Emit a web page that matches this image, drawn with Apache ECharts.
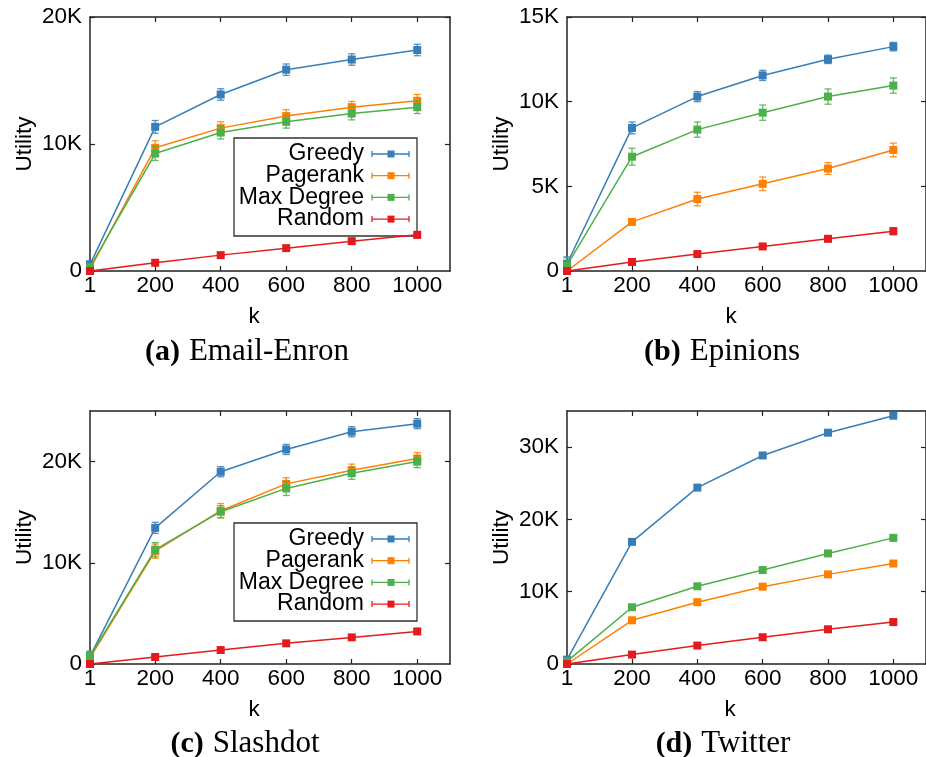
<!DOCTYPE html>
<html>
<head>
<meta charset="utf-8">
<title>Utility vs k</title>
<script src="https://cdn.jsdelivr.net/npm/echarts@6/dist/echarts.min.js"></script>
<style>
  html, body { margin: 0; padding: 0; background: #fff; }
  #chart { width: 926px; height: 757px; }
</style>
</head>
<body>
<div id="chart"></div>
<script>
// Seed-set size k
const K = [1, 200, 400, 600, 800, 1000];
const X_TICKS = [1, 200, 400, 600, 800, 1000];
const METHODS = ['Greedy', 'Pagerank', 'Max Degree', 'Random'];
const COLORS = ['#377eb8', '#ff7f00', '#4daf4a', '#e41a1c'];

// (a) Email-Enron
const enronGreedy    = [500, 11350, 13900, 15850, 16650, 17400];
const enronPagerank  = [150, 9700, 11250, 12200, 12900, 13400];
const enronMaxDegree = [300, 9250, 10900, 11750, 12400, 12900];
const enronRandom    = [0, 650, 1250, 1800, 2350, 2850];
const enronGreedyErr    = [300, 500, 450, 450, 450, 450];
const enronPagerankErr  = [200, 550, 500, 500, 450, 500];
const enronMaxDegreeErr = [300, 550, 500, 500, 500, 500];
const enronRandomErr    = [50, 150, 150, 150, 200, 250];

// (b) Epinions
const epinionsGreedy    = [430, 8450, 10300, 11550, 12500, 13250];
const epinionsPagerank  = [0, 2900, 4250, 5150, 6050, 7150];
const epinionsMaxDegree = [330, 6750, 8350, 9350, 10300, 10950];
const epinionsRandom    = [0, 530, 1000, 1450, 1900, 2350];
const epinionsGreedyErr    = [400, 350, 300, 300, 250, 250];
const epinionsPagerankErr  = [100, 150, 400, 400, 350, 400];
const epinionsMaxDegreeErr = [450, 500, 450, 450, 450, 450];
const epinionsRandomErr    = [50, 100, 100, 100, 150, 200];

// (c) Slashdot
const slashdotGreedy    = [760, 13450, 19000, 21200, 22950, 23750];
const slashdotPagerank  = [600, 11150, 15150, 17800, 19150, 20300];
const slashdotMaxDegree = [760, 11300, 15050, 17350, 18850, 20000];
const slashdotRandom    = [0, 690, 1380, 2040, 2630, 3220];
const slashdotGreedyErr    = [500, 550, 500, 500, 500, 500];
const slashdotPagerankErr  = [300, 700, 700, 600, 600, 600];
const slashdotMaxDegreeErr = [500, 700, 600, 700, 600, 600];
const slashdotRandomErr    = [50, 100, 100, 100, 150, 200];

// (d) Twitter
const twitterGreedy    = [600, 16900, 24400, 28850, 32000, 34350];
const twitterPagerank  = [0, 6050, 8550, 10700, 12400, 13900];
const twitterMaxDegree = [370, 7850, 10750, 13000, 15300, 17450];
const twitterRandom    = [0, 1300, 2550, 3700, 4800, 5800];
const twitterGreedyErr    = [100, 300, 300, 300, 300, 300];
const twitterPagerankErr  = [50, 200, 200, 200, 200, 200];
const twitterMaxDegreeErr = [100, 200, 200, 200, 200, 200];
const twitterRandomErr    = [50, 150, 150, 150, 150, 150];

// y-axis ranges and labelled ticks per panel
const Y_MAX   = [20000, 15000, 25000, 35000];
const Y_TICKS = [[0, 10000, 20000], [0, 5000, 10000, 15000], [0, 10000, 20000], [0, 10000, 20000, 30000]];
const CAPTIONS = [['(a)', 'Email-Enron'], ['(b)', 'Epinions'], ['(c)', 'Slashdot'], ['(d)', 'Twitter']];

const panels = [
  { values: [enronGreedy, enronPagerank, enronMaxDegree, enronRandom],
    errors: [enronGreedyErr, enronPagerankErr, enronMaxDegreeErr, enronRandomErr] },
  { values: [epinionsGreedy, epinionsPagerank, epinionsMaxDegree, epinionsRandom],
    errors: [epinionsGreedyErr, epinionsPagerankErr, epinionsMaxDegreeErr, epinionsRandomErr] },
  { values: [slashdotGreedy, slashdotPagerank, slashdotMaxDegree, slashdotRandom],
    errors: [slashdotGreedyErr, slashdotPagerankErr, slashdotMaxDegreeErr, slashdotRandomErr] },
  { values: [twitterGreedy, twitterPagerank, twitterMaxDegree, twitterRandom],
    errors: [twitterGreedyErr, twitterPagerankErr, twitterMaxDegreeErr, twitterRandomErr] }
];

// layout
const GRIDS = [
  { left: 90,  top: 17,  width: 360, height: 254 },
  { left: 567, top: 17,  width: 361, height: 254 },
  { left: 90,  top: 411, width: 360, height: 253 },
  { left: 567, top: 411, width: 361, height: 253 }
];
const SANS = "'Liberation Sans', Arial, Helvetica, sans-serif";
const SERIF = "'Liberation Serif', 'Times New Roman', serif";
const FRAME = '#222';
const FONT = 22.5;

const fmtK = v => v === 0 ? '0' : (v / 1000) + 'K';
const fmtN = v => String(v);

const xAxes = [], yAxes = [], series = [];
GRIDS.forEach((g, i) => {
  const tick = { show: true, inside: true, length: 5, lineStyle: { color: FRAME, width: 1.2 } };
  // bottom
  xAxes.push({
    type: 'value', gridIndex: i, min: 1, max: 1100, position: 'bottom',
    axisLine: { show: true, onZero: false, lineStyle: { color: FRAME, width: 1.5 } },
    axisTick: Object.assign({ customValues: X_TICKS }, tick),
    axisLabel: { customValues: X_TICKS, formatter: fmtN, color: '#000', fontSize: FONT, fontFamily: SANS, margin: 3 },
    splitLine: { show: false }
  });
  // top mirror
  xAxes.push({
    type: 'value', gridIndex: i, min: 1, max: 1100, position: 'top',
    axisLine: { show: true, onZero: false, lineStyle: { color: FRAME, width: 1.5 } },
    axisTick: Object.assign({ customValues: X_TICKS.slice(1) }, tick),
    axisLabel: { show: false }, splitLine: { show: false }
  });
  // left
  yAxes.push({
    type: 'value', gridIndex: i, min: 0, max: Y_MAX[i], position: 'left',
    name: 'Utility', nameLocation: 'middle', nameRotate: 90, nameGap: 54,
    nameTextStyle: { color: '#000', fontSize: FONT, fontFamily: SANS },
    axisLine: { show: true, onZero: false, lineStyle: { color: FRAME, width: 1.5 } },
    axisTick: Object.assign({ customValues: Y_TICKS[i] }, tick),
    axisLabel: { customValues: Y_TICKS[i], formatter: fmtK, color: '#000', fontSize: FONT, fontFamily: SANS, margin: 8 },
    splitLine: { show: false }
  });
  // right mirror
  yAxes.push({
    type: 'value', gridIndex: i, min: 0, max: Y_MAX[i], position: 'right',
    axisLine: { show: true, onZero: false, lineStyle: { color: FRAME, width: 1.5 } },
    axisTick: Object.assign({ customValues: Y_TICKS[i].slice(1) }, tick),
    axisLabel: { show: false }, splitLine: { show: false }
  });

  const xi = i * 2, yi = i * 2;
  panels[i].values.forEach((vals, m) => {
    const errs = panels[i].errors[m];
    // error bars
    series.push({
      type: 'custom', xAxisIndex: xi, yAxisIndex: yi, silent: true, z: 2 + m,
      data: K.map((k, j) => [k, vals[j] - errs[j], vals[j] + errs[j]]),
      encode: { x: 0, y: [1, 2] },
      renderItem: (params, api) => {
        const x = api.value(0);
        const lo = api.coord([x, Math.max(0, api.value(1))]);
        const hi = api.coord([x, api.value(2)]);
        const w = 3.5;
        const style = { stroke: COLORS[m], lineWidth: 1.3, fill: null, opacity: 0.85 };
        return {
          type: 'group',
          children: [
            { type: 'line', shape: { x1: lo[0], y1: lo[1], x2: hi[0], y2: hi[1] }, style },
            { type: 'line', shape: { x1: hi[0] - w, y1: hi[1], x2: hi[0] + w, y2: hi[1] }, style },
            { type: 'line', shape: { x1: lo[0] - w, y1: lo[1], x2: lo[0] + w, y2: lo[1] }, style }
          ]
        };
      }
    });
    // line with square markers
    series.push({
      type: 'line', name: METHODS[m], xAxisIndex: xi, yAxisIndex: yi, z: 2 + m,
      data: K.map((k, j) => [k, vals[j]]),
      symbol: 'rect', symbolSize: 8, showSymbol: true,
      lineStyle: { color: COLORS[m], width: 1.5 },
      itemStyle: { color: COLORS[m] },
      emphasis: { disabled: true }, animation: false
    });
  });
});

// legend boxes for panels (a) and (c)
function legendBox(x0, y0) {
  const children = [{
    type: 'rect', shape: { x: x0, y: y0, width: 183, height: 98 },
    style: { fill: '#fff', stroke: '#333', lineWidth: 1.3 }
  }];
  METHODS.forEach((name, m) => {
    const y = y0 + 16 + m * 21.7;
    children.push({ type: 'text', style: { text: name, x: x0 + 130, y, align: 'right', verticalAlign: 'middle', fontSize: 23, fontFamily: SANS, fill: '#000' } });
    const s = { stroke: COLORS[m], lineWidth: 1.3 };
    children.push({ type: 'line', shape: { x1: x0 + 138, y1: y, x2: x0 + 175, y2: y }, style: s });
    children.push({ type: 'line', shape: { x1: x0 + 138, y1: y - 3, x2: x0 + 138, y2: y + 3 }, style: s });
    children.push({ type: 'line', shape: { x1: x0 + 175, y1: y - 3, x2: x0 + 175, y2: y + 3 }, style: s });
    children.push({ type: 'rect', shape: { x: x0 + 153.5, y: y - 3.5, width: 7, height: 7 }, style: { fill: COLORS[m] } });
  });
  return { type: 'group', z: 100, children };
}

const graphics = [legendBox(234, 138), legendBox(234, 523)];
const LABEL_POS = [[254, 317, 247, 352], [731, 317, 722, 352], [254, 710, 245, 744], [730, 710, 723, 744]];
LABEL_POS.forEach((p, i) => {
  graphics.push({ type: 'text', style: { text: 'k', x: p[0], y: p[1], align: 'center', verticalAlign: 'middle', fontSize: FONT, fontFamily: SANS, fill: '#000' } });
  graphics.push({
    type: 'text',
    style: {
      text: '{b|' + CAPTIONS[i][0] + '}{s| }{n|' + CAPTIONS[i][1] + '}',
      x: p[2], y: p[3], align: 'center', verticalAlign: 'middle',
      rich: {
        b: { fontSize: 30, fontWeight: 'bold', fontFamily: SERIF, fill: '#000', color: '#000' },
        s: { fontSize: 30, fontFamily: SERIF, width: 9 },
        n: { fontSize: 31, fontFamily: SERIF, fill: '#000', color: '#000' }
      }
    }
  });
});

const chart = echarts.init(document.getElementById('chart'), null, { renderer: 'canvas' });
chart.setOption({
  animation: false,
  backgroundColor: '#fff',
  grid: GRIDS.map(g => Object.assign({ containLabel: false }, g)),
  xAxis: xAxes,
  yAxis: yAxes,
  series,
  graphic: graphics
});
</script>
</body>
</html>
